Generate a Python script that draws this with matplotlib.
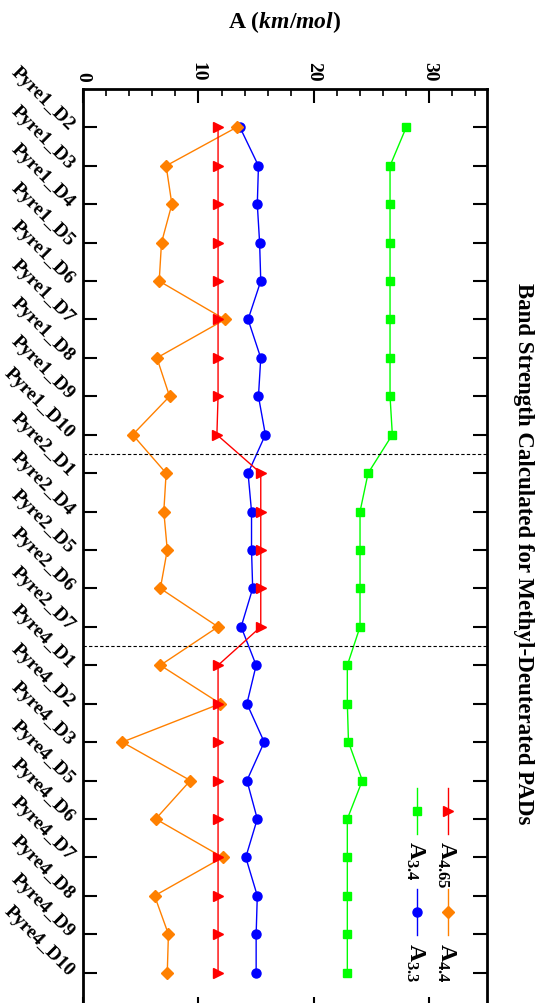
"""Band strength of methyl-deuterated PADs, drawn rotated (portrait)"""
import numpy as np
import matplotlib
matplotlib.use("Agg")
from matplotlib import pyplot as plt
from matplotlib.ticker import MultipleLocator, FixedLocator

plt.rcParams['font.family'] = ['Liberation Serif', 'DejaVu Serif']
plt.rcParams['font.weight'] = 'bold'
plt.rcParams['mathtext.fontset'] = 'custom'
plt.rcParams['mathtext.rm'] = 'Liberation Serif:bold'
plt.rcParams['mathtext.bf'] = 'Liberation Serif:bold'
plt.rcParams['mathtext.it'] = 'Liberation Serif:italic:bold'
plt.rcParams['mathtext.default'] = 'rm'

# data
categories = ["Pyre1_D2", "Pyre1_D3", "Pyre1_D4", "Pyre1_D5", "Pyre1_D6", "Pyre1_D7",
              "Pyre1_D8", "Pyre1_D9", "Pyre1_D10",
              "Pyre2_D1", "Pyre2_D4", "Pyre2_D5", "Pyre2_D6", "Pyre2_D7",
              "Pyre4_D1", "Pyre4_D2", "Pyre4_D3", "Pyre4_D5", "Pyre4_D6", "Pyre4_D7",
              "Pyre4_D8", "Pyre4_D9", "Pyre4_D10"]
a_3_4 = [28.0, 26.6, 26.6, 26.6, 26.6, 26.6, 26.6, 26.6, 26.8,
         24.7, 24.0, 24.0, 24.0, 24.0,
         22.9, 22.9, 23.0, 24.2, 22.9, 22.9, 22.9, 22.9, 22.9]
a_3_3 = [13.6, 15.2, 15.1, 15.3, 15.4, 14.3, 15.4, 15.2, 15.8,
         14.3, 14.6, 14.6, 14.7, 13.7,
         15.0, 14.2, 15.7, 14.2, 15.1, 14.1, 15.1, 15.0, 15.0]
a_4_4 = [13.3, 7.2, 7.7, 6.8, 6.6, 12.3, 6.4, 7.5, 4.3,
         7.2, 7.0, 7.3, 6.7, 11.7,
         6.7, 11.9, 3.4, 9.3, 6.3, 12.1, 6.2, 7.4, 7.3]
a_4_65 = [11.7, 11.7, 11.7, 11.7, 11.7, 11.7, 11.7, 11.7, 11.6,
          15.4, 15.4, 15.4, 15.4, 15.4,
          11.7, 11.7, 11.7, 11.7, 11.7, 11.7, 11.7, 11.7, 11.7]
group_breaks = [9.5, 14.5]

series = [
    (a_3_4, '#00ff00', 's', 5.8, r'A$_{3.4}$'),
    (a_3_3, '#0000ff', 'o', 6.5, r'A$_{3.3}$'),
    (a_4_4, '#ff8000', 'D', 6.5, r'A$_{4.4}$'),
    (a_4_65, '#ff0000', '>', 7.0, r'A$_{4.65}$'),
]

pos = np.arange(1, len(categories) + 1)

fig = plt.figure(figsize=(5.44, 10.04), dpi=100)
ax = fig.add_axes([0.1526, -0.008, 0.7426, 0.9184])

for vals, col, mk, ms, _ in series:
    ax.plot(vals, pos, color=col, lw=1.0, marker=mk, ms=ms, mec=col, mfc=col)

for yb in group_breaks:
    ax.axhline(yb, color='black', lw=0.8, ls=(0, (3, 2)))

ax.set_xlim(0, 35)
ax.set_ylim(len(categories) + 1, 0)

# value axis on top, labels rotated
ax.xaxis.set_major_locator(MultipleLocator(10))
ax.xaxis.set_minor_locator(MultipleLocator(2))
ax.tick_params(axis='x', which='both', direction='in', top=True, bottom=True,
               labeltop=True, labelbottom=False)
ax.tick_params(axis='x', which='major', length=10, width=1.5, labelsize=14, pad=6)
ax.tick_params(axis='x', which='minor', length=5, width=1.2)
for lab in ax.get_xticklabels():
    lab.set_rotation(-90)
    lab.set_va('bottom')

ax.yaxis.set_major_locator(FixedLocator(pos))
ax.set_yticklabels(categories, rotation=-45, ha='right', va='center',
                   rotation_mode='anchor', fontsize=14, fontweight='bold')
ax.tick_params(axis='y', which='major', direction='in', left=True, right=True,
               length=10, width=1.5, pad=8)
for sp in ax.spines.values():
    sp.set_linewidth(2.0)

# manual rotated legend
leg_x = [0.903, 0.827, 0.903, 0.827]
leg_y = [0.217, 0.217, 0.107, 0.107]
leg_order = [3, 0, 2, 1]
for lx, ly, idx in zip(leg_x, leg_y, leg_order):
    vals, col, mk, ms, name = series[idx]
    ax.plot([lx, lx], [ly - 0.025, ly + 0.025], transform=ax.transAxes,
            color=col, lw=1.0)
    ax.plot([lx], [ly], transform=ax.transAxes, color=col, marker=mk, ms=ms,
            mec=col, mfc=col)
    ax.text(lx - 0.004, ly - 0.032, name, transform=ax.transAxes, rotation=-90,
            ha='center', va='top', fontsize=17, fontweight='bold')

fig.text(0.524, 0.978, r'A ($\mathit{km/mol}$)', ha='center', va='center',
         fontsize=17, fontweight='bold')
fig.text(0.962, 0.449, 'Band Strength Calculated for Methyl-Deuterated PADs',
         rotation=-90, ha='center', va='center', fontsize=16.5, fontweight='bold')

fig.savefig('out.png', dpi=100)
